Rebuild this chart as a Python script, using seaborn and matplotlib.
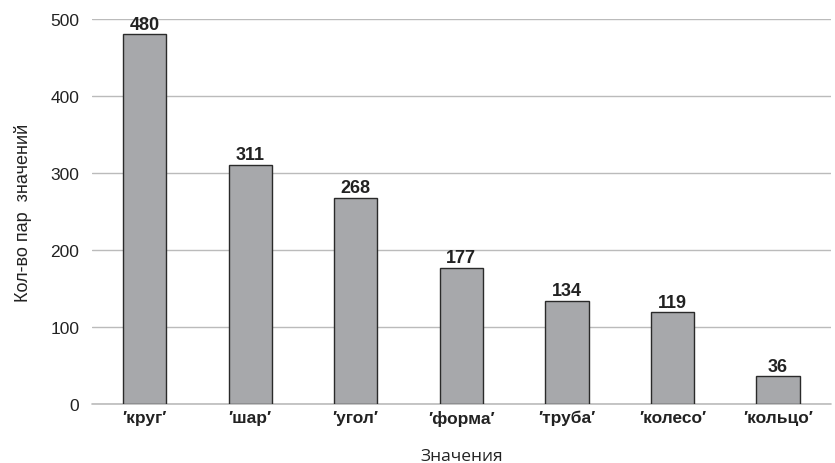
import pandas as pd
import seaborn as sns
import matplotlib.pyplot as plt

categories = ['\u2032круг\u2032', '\u2032шар\u2032', '\u2032угол\u2032', '\u2032форма\u2032',
              '\u2032труба\u2032', '\u2032колесо\u2032', '\u2032кольцо\u2032']
counts = [480, 311, 268, 177, 134, 119, 36]

df = pd.DataFrame({'value': categories, 'count': counts})

sns.set_style('white')
plt.rcParams['font.family'] = ['Liberation Sans', 'DejaVu Sans']

fig = plt.figure(figsize=(8.35, 4.64), dpi=100)
ax = fig.add_axes([0.110, 0.127, 0.885, 0.83])

sns.barplot(data=df, x='value', y='count', color='#a7a8ab', edgecolor='#2a2a2a',
            linewidth=1.0, width=0.41, saturation=1, ax=ax, zorder=3)

# value labels above bars
for p, v in zip(ax.patches, counts):
    ax.annotate(f'{v}', (p.get_x() + p.get_width() / 2., p.get_height()),
                ha='center', va='bottom', fontsize=13, fontweight='bold',
                color='#222222', xytext=(0, 1), textcoords='offset points')

ax.set_ylim(0, 500)
ax.set_xlim(-0.5, 6.5)
ax.set_yticks([0, 100, 200, 300, 400, 500])
ax.yaxis.grid(True, color='#bbbbbb', linewidth=1)
ax.axhline(0, color='#bbbbbb', linewidth=1.2, clip_on=False, zorder=1)
ax.set_axisbelow(True)
for s in ax.spines.values():
    s.set_visible(False)
ax.tick_params(axis='y', length=0, pad=9, labelsize=12.5, labelcolor='#222222')
ax.tick_params(axis='x', length=0, pad=4)
for t in ax.get_xticklabels():
    t.set_fontweight('bold')
    t.set_fontsize(12.5)
    t.set_color('#222222')

ax.set_xlabel('Значения', fontsize=12.5, color='#222222', labelpad=16,
              family=['Open Sans', 'DejaVu Sans'])
ax.set_ylabel('Кол-во пар  значений', fontsize=13, color='#222222', labelpad=13)

fig.savefig('out.png', dpi=100)
